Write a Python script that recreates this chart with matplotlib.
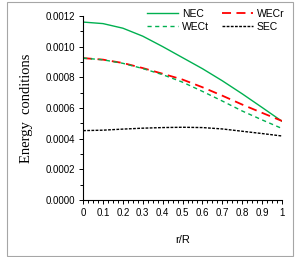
import numpy as np
import matplotlib
matplotlib.use("Agg")
import matplotlib.pyplot as plt
from matplotlib.patches import Rectangle
from matplotlib.ticker import MultipleLocator

# donnees
r = [0.0, 0.1, 0.2, 0.3, 0.4, 0.5, 0.6, 0.7, 0.8, 0.9, 1.0]
nec = [0.001160, 0.001150, 0.001120, 0.001068, 0.001000, 0.000928, 0.000856, 0.000777, 0.000692, 0.000603, 0.000513]
wecr = [0.000925, 0.000915, 0.000893, 0.000860, 0.000823, 0.000785, 0.000735, 0.000680, 0.000622, 0.000568, 0.000515]
wect = [0.000925, 0.000914, 0.000891, 0.000857, 0.000817, 0.000768, 0.000708, 0.000645, 0.000580, 0.000522, 0.000466]
sec = [0.000452, 0.000455, 0.000462, 0.000468, 0.000472, 0.000474, 0.000472, 0.000463, 0.000448, 0.000433, 0.000417]

green = "#00B050"

fig = plt.figure(figsize=(3.0, 2.57), dpi=100)
ax = fig.add_axes([0.277, 0.222, 0.663, 0.716])

l_nec, = ax.plot(r, nec, color=green, lw=1.0, label="NEC")
l_wecr, = ax.plot(r, wecr, color="red", lw=1.3, dashes=(5, 3), label="WECr")
l_wect, = ax.plot(r, wect, color=green, lw=1.0, dashes=(3, 2.5), label="WECt")
l_sec, = ax.plot(r, sec, color="black", lw=1.0, dashes=(2, 1), label="SEC")

ax.set_xlim(0, 1)
ax.set_ylim(0, 0.0012)
ax.set_xticks(r)
ax.set_xticklabels(["%g" % v for v in r])
ax.xaxis.set_minor_locator(MultipleLocator(0.025))
ax.yaxis.set_major_locator(MultipleLocator(0.0002))
ax.yaxis.set_minor_locator(MultipleLocator(0.0001))
ax.yaxis.set_major_formatter(matplotlib.ticker.FormatStrFormatter("%.4f"))

for s in ["top", "right"]:
    ax.spines[s].set_visible(False)
ax.spines["left"].set_linewidth(0.8)
ax.spines["bottom"].set_linewidth(0.8)
ax.tick_params(which="major", direction="out", length=3, width=0.7, labelsize=7, pad=3)
ax.tick_params(which="minor", direction="out", length=2, width=0.7)
for lab in ax.get_xticklabels() + ax.get_yticklabels():
    lab.set_family("Liberation Sans")

ax.set_ylabel("Energy  conditions", family="Liberation Serif", fontsize=10.5, labelpad=9)
ax.set_xlabel("r/R", family="Liberation Sans", fontsize=8, labelpad=12)

# ordre pour remplir ligne par ligne
ax.legend([l_nec, l_wect, l_wecr, l_sec], ["NEC", "WECt", "WECr", "SEC"],
          ncol=2, loc="upper right", bbox_to_anchor=(1.06, 1.09), frameon=False,
          prop={"family": "Liberation Sans", "size": 7.5}, handlelength=3.0,
          columnspacing=1.2, handletextpad=0.4, labelspacing=0.3)

fig.patches.append(Rectangle((7 / 300, 1 / 257), 286 / 300, 254 / 257,
                             transform=fig.transFigure, fill=False,
                             edgecolor="#A6A6A6", lw=0.8))

fig.savefig("out.png", dpi=100)
